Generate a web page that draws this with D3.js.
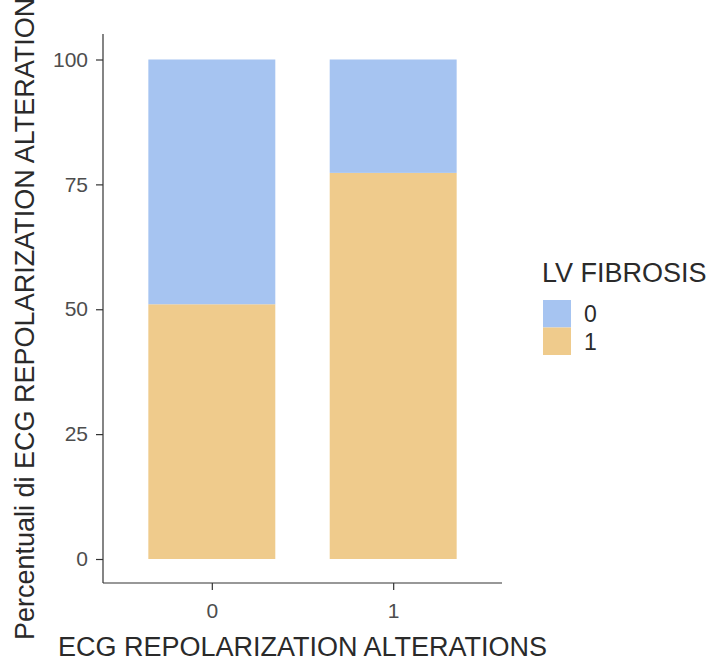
<!DOCTYPE html>
<html>
<head>
<meta charset="utf-8">
<script src="https://cdn.jsdelivr.net/npm/d3@7"></script>
<style>
  html, body { margin: 0; padding: 0; background: #fff; }
  svg { display: block; font-family: "Liberation Sans", Arial, sans-serif; }
</style>
</head>
<body>
<svg id="chart" width="710" height="664"></svg>
<script>
// Groups on the x axis and the share of each LV FIBROSIS level (percent)
const categories = ["0", "1"];
const fibrosisLevels = ["0", "1"];
const pctFibrosis1 = [51.0, 77.3];
const pctFibrosis0 = [49.0, 22.7];
const yTicks = [0, 25, 50, 75, 100];
const colors = { "0": "#A6C4F1", "1": "#EFCB8C" };

const svg = d3.select("#chart");
const panel = { left: 103, right: 502, top: 34, bottom: 583 };
const titleSize = "27px";
const textSize = "21px";
const legendTextSize = "23px";

const x = d3.scaleLinear().domain([0.4, 2.6]).range([panel.left, panel.right]);
const y = d3.scaleLinear().domain([0, 100]).range([559, 59.5]);
const barHalf = 0.35;

// stacked data: level "1" at the bottom, level "0" above it
const rows = categories.map((c, i) => ({ cat: c, idx: i + 1, "1": pctFibrosis1[i], "0": pctFibrosis0[i] }));
const stack = d3.stack().keys(["1", "0"])(rows);

svg.append("g").selectAll("g")
  .data(stack).join("g")
  .attr("fill", d => colors[d.key])
  .selectAll("rect")
  .data(d => d).join("rect")
  .attr("x", d => x(d.data.idx - barHalf))
  .attr("width", d => x(d.data.idx + barHalf) - x(d.data.idx - barHalf))
  .attr("y", d => y(d[1]))
  .attr("height", d => y(d[0]) - y(d[1]));

// y axis
const yAxis = svg.append("g")
  .attr("transform", `translate(${panel.left},0)`)
  .call(d3.axisLeft(y).tickValues(yTicks).tickSize(7).tickPadding(8).tickFormat(d3.format("d")));
yAxis.select(".domain").remove();
yAxis.append("line").attr("x1", 0).attr("x2", 0).attr("y1", panel.top).attr("y2", panel.bottom)
  .attr("stroke", "#333").attr("stroke-width", 1.2);
yAxis.selectAll(".tick line").attr("stroke", "#333").attr("stroke-width", 1.2);
yAxis.selectAll(".tick text").attr("fill", "#4d4d4d").style("font-size", textSize);

// x axis
const xAxis = svg.append("g")
  .attr("transform", `translate(0,${panel.bottom})`)
  .call(d3.axisBottom(x).tickValues([1, 2]).tickSize(7).tickPadding(13)
    .tickFormat((d, i) => categories[i]));
xAxis.select(".domain").remove();
xAxis.append("line").attr("x1", panel.left).attr("x2", panel.right).attr("y1", 0).attr("y2", 0)
  .attr("stroke", "#333").attr("stroke-width", 1.2);
xAxis.selectAll(".tick line").attr("stroke", "#333").attr("stroke-width", 1.2);
xAxis.selectAll(".tick text").attr("fill", "#4d4d4d").style("font-size", textSize);

// axis titles
svg.append("text")
  .attr("x", (panel.left + panel.right) / 2).attr("y", 656)
  .attr("text-anchor", "middle").attr("fill", "#2a2a2a")
  .style("font-size", titleSize)
  .text("ECG REPOLARIZATION ALTERATIONS");

svg.append("text")
  .attr("transform", "translate(34,640) rotate(-90)")
  .attr("text-anchor", "start").attr("fill", "#2a2a2a")
  .style("font-size", titleSize)
  .text("Percentuali di ECG REPOLARIZATION ALTERATIONS");

// legend
const legend = svg.append("g").attr("transform", "translate(543,282)");
legend.append("text").attr("x", -1).attr("y", 0).attr("fill", "#2a2a2a")
  .style("font-size", titleSize).text("LV FIBROSIS");
const key = 27.5;
fibrosisLevels.forEach((lv, i) => {
  legend.append("rect").attr("x", 0).attr("y", 18 + i * key)
    .attr("width", 28).attr("height", key).attr("fill", colors[lv]);
  legend.append("text").attr("x", 41).attr("y", 18 + i * key + key / 2 + 8.5)
    .attr("fill", "#2a2a2a").style("font-size", legendTextSize).text(lv);
});
</script>
</body>
</html>
